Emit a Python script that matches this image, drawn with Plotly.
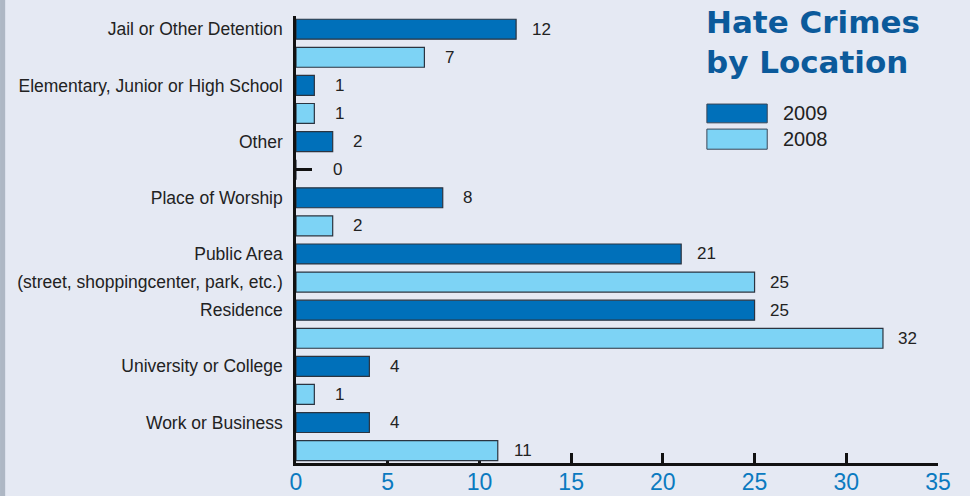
import plotly.graph_objects as go

# Data
categories = ["Jail or Other Detention", "Elementary, Junior or High School", "Other",
              "Place of Worship", "Public Area", "Residence", "University or College",
              "Work or Business"]
sublabels = ["", "", "", "", "(street, shoppingcenter, park, etc.)", "", "", ""]
crimes_2009 = [12, 1, 2, 8, 21, 25, 4, 4]
crimes_2008 = [7, 1, 0, 2, 25, 32, 1, 11]
years = ["2009", "2008"]
x_ticks = [0, 5, 10, 15, 20, 25, 30, 35]

COLOR_2009 = "#0070BA"
COLOR_2008 = "#7DD3F5"
BG = "#E5E9F3"
SANS = "Liberation Sans, Arial, sans-serif"

# each category takes two rows: 2009 on top, 2008 below
rows_2009 = [2 * i for i in range(len(categories))]
rows_2008 = [2 * i + 1 for i in range(len(categories))]
tick_rows = rows_2009 + rows_2008
tick_text = categories + sublabels

fig = go.Figure()
for name, rows, vals, color in [(years[0], rows_2009, crimes_2009, COLOR_2009),
                                (years[1], rows_2008, crimes_2008, COLOR_2008)]:
    fig.add_trace(go.Bar(
        x=vals, y=rows, orientation="h", name=name, width=0.71,
        marker=dict(color=color, line=dict(color="#2b3440", width=1.2)),
        showlegend=False
    ))

# rows with a zero value get a small stub, drawn as an inside tick on an overlay axis
all_rows = rows_2009 + rows_2008
all_vals = crimes_2009 + crimes_2008
zero_rows = [r for r, v in zip(all_rows, all_vals) if v == 0]
fig.add_trace(go.Scatter(x=[0] * len(zero_rows), y=zero_rows, yaxis="y2", mode="markers",
                         marker=dict(opacity=0), showlegend=False, hoverinfo="skip"))

annotations = []
for r, v in zip(all_rows, all_vals):
    annotations.append(dict(
        x=v, y=r, xref="x", yref="y", text=str(v), showarrow=False,
        xanchor="center", yanchor="middle", xshift=25 + (16 if v == 0 else 0),
        font=dict(family=SANS, size=17, color="#222222")
    ))

# title and hand-made legend in the upper right
annotations.append(dict(
    x=0.636, y=1.031, xref="paper", yref="paper", xanchor="left", yanchor="top",
    text="<b>Hate Crimes<br>by Location</b>", showarrow=False, align="left",
    font=dict(family="DejaVu Sans", size=31, color="#0B5A9B")
))
legend_boxes = [(0.761, 0.803, COLOR_2009), (0.702, 0.747, COLOR_2008)]
shapes = []
for (y0, y1, color), label in zip(legend_boxes, years):
    shapes.append(dict(type="rect", xref="paper", yref="paper", x0=0.640, x1=0.734,
                       y0=y0, y1=y1, fillcolor=color, line=dict(color="#3a4656", width=1)))
    annotations.append(dict(
        x=0.755, y=(y0 + y1) / 2, xref="paper", yref="paper", xanchor="left",
        yanchor="middle", text=label, showarrow=False,
        font=dict(family=SANS, size=20, color="#222222")
    ))

# grey stripe at the left edge of the original page
shapes.append(dict(type="rect", xref="paper", yref="paper", x0=-0.461, x1=-0.453,
                   y0=-0.08, y1=1.04, fillcolor="#AEB7C4", line=dict(width=0), layer="below"))

y_range = [15.44, -0.47]
fig.update_layout(
    width=970, height=496,
    margin=dict(l=296, r=32, t=16, b=33, autoexpand=False),
    paper_bgcolor=BG, plot_bgcolor=BG,
    barmode="overlay",
    xaxis=dict(
        range=[0, 35], tickvals=x_ticks, showgrid=False, zeroline=False,
        showline=True, linecolor="#111111", linewidth=2.5,
        ticks="inside", ticklen=10, tickwidth=2.5, tickcolor="#111111",
        tickfont=dict(family=SANS, size=23, color="#0A7AC0"),
        ticklabelstandoff=-3,
        layer="below traces"
    ),
    yaxis=dict(
        range=y_range, tickvals=tick_rows, ticktext=tick_text, showgrid=False,
        zeroline=False, showline=True, linecolor="#111111", linewidth=2.5,
        ticks="outside", ticklen=7, tickcolor="rgba(0,0,0,0)",
        tickfont=dict(family=SANS, size=17.5, color="#222222")
    ),
    yaxis2=dict(
        range=y_range, overlaying="y", anchor="x", side="left", tickvals=zero_rows,
        showticklabels=False, showgrid=False, zeroline=False, showline=False,
        ticks="inside", ticklen=16, tickwidth=2.5, tickcolor="#111111"
    ),
    annotations=annotations,
    shapes=shapes,
    showlegend=False
)

# drop the browser's default body margin so the figure fills the window
fig.write_html("out.html", config={"displayModeBar": False},
               post_script="document.body.style.margin = '0';")
